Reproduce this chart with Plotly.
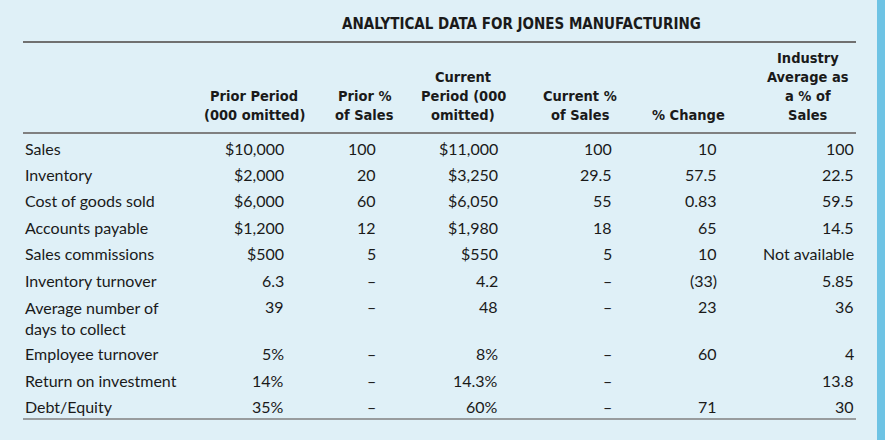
import plotly.graph_objects as go

title = "ANALYTICAL DATA FOR JONES MANUFACTURING"

headers = [
    ["Prior Period", "(000 omitted)"],
    ["Prior %", "of Sales"],
    ["Current", "Period (000", "omitted)"],
    ["Current %", "of Sales"],
    ["% Change"],
    ["Industry", "Average as", "a % of", "Sales"],
]

row_labels = [
    "Sales", "Inventory", "Cost of goods sold", "Accounts payable",
    "Sales commissions", "Inventory turnover",
    "Average number of<br>days to collect",
    "Employee turnover", "Return on investment", "Debt/Equity",
]

prior_period = ["$10,000", "$2,000", "$6,000", "$1,200", "$500", "6.3", "39", "5%", "14%", "35%"]
prior_pct = ["100", "20", "60", "12", "5", "–", "–", "–", "–", "–"]
current_period = ["$11,000", "$3,250", "$6,050", "$1,980", "$550", "4.2", "48", "8%", "14.3%", "60%"]
current_pct = ["100", "29.5", "55", "18", "5", "–", "–", "–", "–", "–"]
pct_change = ["10", "57.5", "0.83", "65", "10", "(33)", "23", "60", "", "71"]
industry = ["100", "22.5", "59.5", "14.5", "Not available", "5.85", "36", "4", "13.8", "30"]

columns = [prior_period, prior_pct, current_period, current_pct, pct_change, industry]

# layout (pixel-like coordinates on hidden axes)
W, H = 885, 440
col_right = [286, 378, 500, 614, 719, 856]
col_center = [254, 364, 463, 580, 688, 808]
label_x = 23
row_step = 26.4
extra_line = 21
first_row_y = 148
head_bottom_y = 115
head_step = 19

BG = "#dff0f7"
TXT = "#1a1a1a"
body_font = dict(family="Lato, Noto Sans, sans-serif", size=16, color=TXT)
head_font = dict(family="DejaVu Sans Condensed, sans-serif", size=14.5, color=TXT, weight="bold")

row_y = []
y = first_row_y
for lab in row_labels:
    row_y.append(y)
    y += row_step + (extra_line if "<br>" in lab else 0)

fig = go.Figure()
fig.add_trace(go.Scatter(x=[0, W], y=[0, H], mode="markers", marker=dict(opacity=0), hoverinfo="skip", showlegend=False))

ann = []
ann.append(dict(x=521, y=24, text=title, xref="x", yref="y", showarrow=False,
                xanchor="center", yanchor="middle", font=dict(head_font, size=15)))
for cx, lines in zip(col_center, headers):
    n = len(lines)
    for k, line in enumerate(lines):
        ann.append(dict(x=cx, y=head_bottom_y - (n - 1 - k) * head_step, text=line, xref="x", yref="y",
                        showarrow=False, xanchor="center", yanchor="middle", font=head_font))
for ry, lab in zip(row_y, row_labels):
    if "<br>" in lab:
        ann.append(dict(x=label_x, y=ry - 10, text=lab, xref="x", yref="y", showarrow=False,
                        xanchor="left", yanchor="top", align="left", font=body_font))
    else:
        ann.append(dict(x=label_x, y=ry, text=lab, xref="x", yref="y", showarrow=False,
                        xanchor="left", yanchor="middle", font=body_font))
for cr, vals in zip(col_right, columns):
    for ry, v in zip(row_y, vals):
        if v:
            ann.append(dict(x=cr, y=ry, text=v, xref="x", yref="y", showarrow=False,
                            xanchor="right", yanchor="middle", font=body_font))

shapes = [
    dict(type="line", xref="x", yref="y", x0=23, x1=856, y0=42, y1=42, line=dict(color="#707070", width=2)),
    dict(type="line", xref="x", yref="y", x0=23, x1=856, y0=133, y1=133, line=dict(color="#808080", width=2)),
    dict(type="line", xref="x", yref="y", x0=23, x1=856, y0=419, y1=419, line=dict(color="#808080", width=1.5)),
    dict(type="rect", xref="x", yref="y", x0=877, x1=W, y0=0, y1=H, line=dict(width=0), fillcolor="#6ec3e4"),
]

fig.update_layout(
    width=W, height=H, margin=dict(l=0, r=0, t=0, b=0),
    paper_bgcolor=BG, plot_bgcolor=BG,
    xaxis=dict(range=[0, W], visible=False, fixedrange=True),
    yaxis=dict(range=[H, 0], visible=False, fixedrange=True),
    annotations=ann, shapes=shapes, showlegend=False,
)

fig.write_html(
    "out.html",
    config={"displayModeBar": False},
    post_script="document.body.style.margin='0';document.body.style.overflow='hidden';document.body.style.background='#dff0f7';",
)
